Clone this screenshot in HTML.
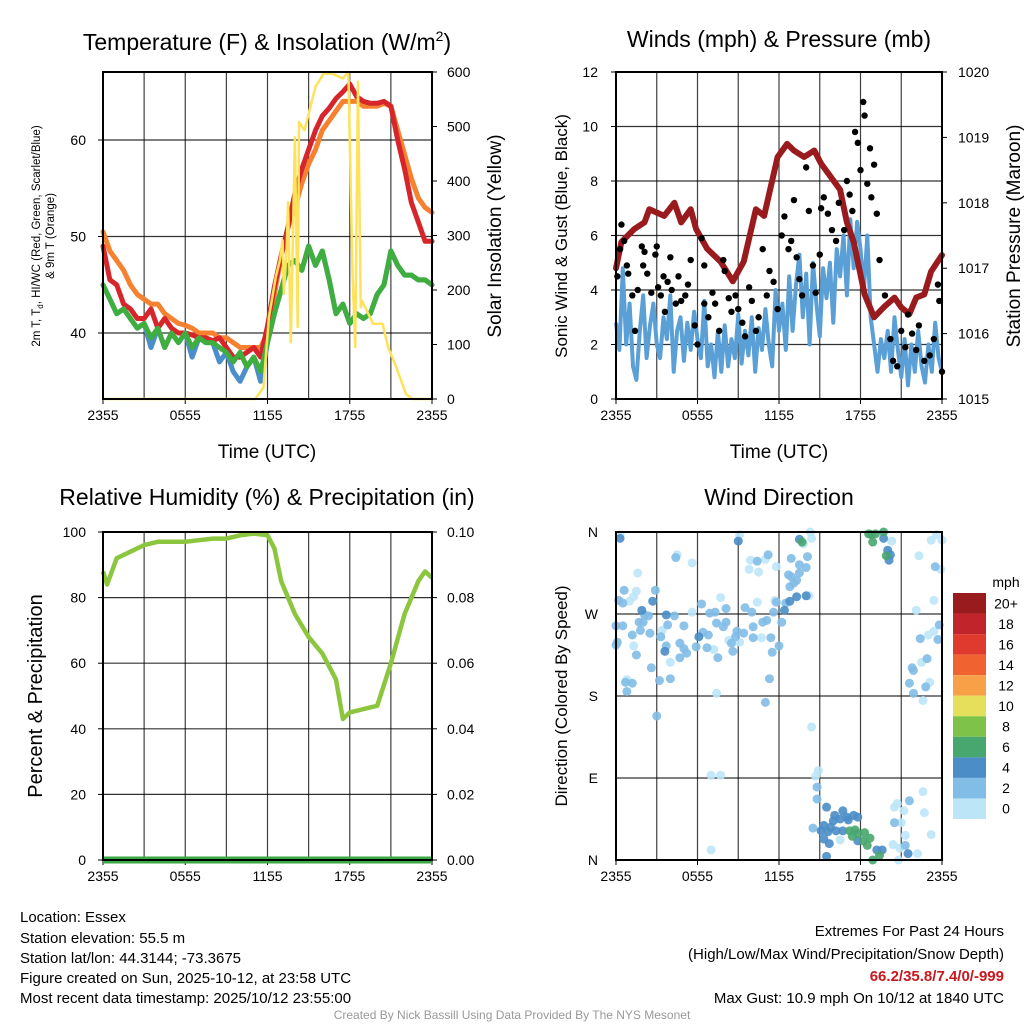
<!DOCTYPE html>
<html><head><meta charset="utf-8"><style>
html,body{margin:0;padding:0;background:#fff;width:1024px;height:1024px;overflow:hidden}
svg text{font-family:"Liberation Sans",sans-serif;fill:#000}
</style></head><body>
<svg id="s" width="1024" height="1024" viewBox="0 0 1024 1024" xmlns="http://www.w3.org/2000/svg">
<text x="267" y="50" font-size="23" text-anchor="middle">Temperature (F) &amp; Insolation (W/m<tspan font-size="14" dy="-9">2</tspan><tspan dy="9">)</tspan></text>
<text x="779" y="47" font-size="23" text-anchor="middle">Winds (mph) &amp; Pressure (mb)</text>
<text x="267" y="505" font-size="23" text-anchor="middle">Relative Humidity (%) &amp; Precipitation (in)</text>
<text x="779" y="505" font-size="23" text-anchor="middle">Wind Direction</text>
<text x="267" y="458" font-size="19" text-anchor="middle">Time (UTC)</text>
<text x="779" y="458" font-size="19" text-anchor="middle">Time (UTC)</text>
<text transform="translate(40,236) rotate(-90)" font-size="11.5" text-anchor="middle">2m T, T<tspan font-size="8" dy="3">d</tspan><tspan dy="-3">, HI/WC (Red, Green, Scarlet/Blue)</tspan></text>
<text transform="translate(54,236) rotate(-90)" font-size="11.5" text-anchor="middle">&amp; 9m T (Orange)</text>
<text transform="translate(501,236) rotate(-90)" font-size="19" text-anchor="middle">Solar Insolation (Yellow)</text>
<text transform="translate(567,236) rotate(-90)" font-size="17" text-anchor="middle">Sonic Wind &amp; Gust (Blue, Black)</text>
<text transform="translate(1020,236) rotate(-90)" font-size="19" text-anchor="middle">Station Pressure (Maroon)</text>
<text transform="translate(42,696) rotate(-90)" font-size="20" text-anchor="middle">Percent &amp; Precipitation</text>
<text transform="translate(567,696) rotate(-90)" font-size="17" text-anchor="middle">Direction (Colored By Speed)</text>
<g font-size="15">
<text x="20" y="922">Location: Essex</text>
<text x="20" y="943">Station elevation: 55.5 m</text>
<text x="20" y="963">Station lat/lon: 44.3144; -73.3675</text>
<text x="20" y="983">Figure created on Sun, 2025-10-12, at 23:58 UTC</text>
<text x="20" y="1003">Most recent data timestamp: 2025/10/12 23:55:00</text>
</g>
<g font-size="15" text-anchor="end">
<text x="1004" y="936">Extremes For Past 24 Hours</text>
<text x="1004" y="959">(High/Low/Max Wind/Precipitation/Snow Depth)</text>
<text x="1004" y="981" style="fill:#c8171d;font-weight:bold">66.2/35.8/7.4/0/-999</text>
<text x="1004" y="1003">Max Gust: 10.9 mph On 10/12 at 1840 UTC</text>
</g>
<text x="512" y="1019" font-size="12" text-anchor="middle" style="fill:#999">Created By Nick Bassill Using Data Provided By The NYS Mesonet</text>
</svg>
<script>
// ---- Temperature panel data (hours from 2355 UTC) ----
const tHours=[0,0.5,1,1.5,2,2.5,3,3.5,4,4.5,5,5.5,6,6.5,7,7.5,8,8.5,9,9.5,10,10.5,11,11.5,12,12.5,13,13.5,14,14.5,15,15.5,16,16.5,17,17.5,18,18.5,19,19.5,20,20.5,21,21.5,22,22.5,23,23.5,24];
const tempRed=[49,45.5,45,43,42.5,41.5,41.5,42.5,40.5,41.5,40.5,40,40,39.8,39.5,39.5,39.2,39.5,38.5,37.5,37.5,38,38.5,37.5,40.7,44.8,48,51,54.5,57,59,61,62.5,63.3,64.3,65,65.8,64.5,64,63.8,63.8,64,63.5,60,57,53.5,51.5,49.5,49.5];
const tempOrange=[50.5,48.5,47.5,46.5,45,44,43.5,43,43,42,41.5,41,40.8,40.5,40,40,40,39.5,39.5,39,38.5,38.5,38.5,38.5,40,44,48,51,53,55.5,57.5,59,61,62,63,64,64,64,63.5,63.5,63.5,63.8,63.5,61,58.5,56,54,53,52.5];
const tempGreen=[45,43.5,42,42.5,41.5,40.5,41,39.5,40.5,38.5,40,39,40,38.5,39.5,39,39,38.5,38,37,38,36.5,37.5,36,39,42,44.5,47,47.5,46.5,49,47,48.5,45.5,42,43,41,42,41.5,42,44,45,48.5,47,46,46,45.5,45.5,45];
const tempBlue=[45,43.5,42,42.5,41.5,40.5,41,38.5,40.5,38.5,40,39,40,37.5,39.5,39,39,37,38,36,35,36.5,37.5,35,39,42,44.5,47,47.5,46.5,49,47,48.5,45.5,42,43,41,42,41.5,42,44,45,48.5,47,46,46,45.5,45.5,45];
const solarHours=[0,11.1,11.7,12.1,12.6,12.9,13.1,13.2,13.4,13.5,13.7,14.0,14.2,14.3,14.7,15.0,15.5,16.1,16.7,17.5,17.9,18.2,18.4,18.6,18.8,18.9,19.7,19.9,20.4,20.8,21.4,22.1,22.6,24];
const solarW=[0,0,21,150,223,254,291,193,279,361,104,480,132,508,493,523,573,597,597,588,600,230,95,582,168,180,138,138,138,95,58,9,0,0];
// ---- Wind panel data ----
const windHours=Array.from({length:97},(_,i)=>i*0.25);
const sonicWind=[2.8,1.8,4.8,2.0,3.5,1.2,0.7,2.5,3.8,1.5,2.7,3.5,2.0,1.5,3.0,2.2,3.8,1.0,2.5,3.0,1.4,2.8,1.8,3.2,2.2,1.5,3.6,1.2,2.0,0.8,2.5,1.0,2.7,1.2,2.2,1.5,3.1,1.3,2.5,1.6,3.0,1.0,2.6,1.8,3.3,2.0,1.2,4.0,2.5,3.5,1.8,4.5,2.5,4.2,5.3,3.0,4.6,2.0,5.0,3.5,2.3,4.8,3.7,5.0,2.8,5.5,4.5,6.0,3.8,6.6,4.8,6.5,5.5,4.0,6.0,3.0,2.0,1.0,2.2,1.5,2.5,1.0,3.0,1.8,0.8,2.2,0.5,2.0,1.0,2.5,1.2,0.6,2.0,1.0,2.8,1.5,1.0];
const gustHours=[0.1,0.3,0.4,0.6,0.8,0.9,1.2,1.4,1.6,1.9,2.0,2.1,2.3,2.6,2.9,3.0,3.1,3.3,3.5,3.6,3.8,4.0,4.1,4.4,4.6,4.8,5.1,5.3,5.5,5.8,6.0,6.3,6.5,6.5,6.8,7.1,7.3,7.6,7.9,8.0,8.3,8.5,8.8,9.0,9.3,9.5,9.8,10.0,10.3,10.5,10.8,11.1,11.3,11.6,11.9,12.2,12.4,12.7,12.9,13.1,13.3,13.5,13.7,14.0,14.2,14.5,14.7,15.0,15.1,15.3,15.6,15.9,16.2,16.4,16.8,17.0,17.2,17.4,17.6,17.8,18.0,18.2,18.3,18.5,18.7,18.8,19.0,19.2,19.4,19.8,20.2,20.4,20.7,21.0,21.3,21.5,21.8,22.1,22.3,22.7,23.1,23.4,23.7,23.8,24.0];
const gustMph=[4.5,5.5,6.4,5.8,4.9,4.6,3.8,2.5,4.0,5.6,4.9,5.4,4.6,3.9,5.3,5.6,4.1,3.8,4.5,3.2,4.3,5.2,4.0,3.5,4.5,3.6,3.8,4.2,5.1,2.7,2.0,5.9,4.9,3.5,3.0,3.9,3.5,2.5,5.1,4.7,3.7,3.2,3.8,3.3,2.8,2.3,4.1,3.6,2.5,3.0,5.5,3.8,4.7,4.3,3.3,6.0,6.7,5.5,5.8,7.3,5.2,4.4,3.8,8.5,6.9,4.9,3.9,5.3,7.0,7.4,6.8,6.2,5.8,7.2,6.2,8.0,7.5,6.9,9.8,9.4,8.4,10.9,10.4,7.9,9.2,7.4,8.6,6.8,5.1,3.8,2.2,1.4,1.2,2.5,1.9,3.1,2.4,1.8,2.7,1.4,1.6,2.2,4.2,3.6,1.0];
const presHours=[0,0.4,1.35,2.1,2.45,3.55,4.3,4.8,5.5,5.9,6.7,7.7,8.6,9.4,10.3,10.9,11.9,12.6,13.1,13.85,14.6,15.1,15.8,16.5,17.0,17.5,18.3,19.0,19.7,20.5,21.0,21.6,22.1,22.7,23.2,24.0];
const presMb=[1017.0,1017.4,1017.6,1017.7,1017.9,1017.8,1018.0,1017.7,1017.9,1017.6,1017.3,1017.1,1016.8,1017.1,1017.9,1017.8,1018.7,1018.9,1018.8,1018.7,1018.8,1018.6,1018.4,1018.2,1017.7,1017.4,1016.6,1016.25,1016.4,1016.55,1016.4,1016.3,1016.55,1016.6,1016.95,1017.2];
// ---- RH panel data ----
const rhHours=[0,0.3,1,2,3,4,5,6,7,8,9,10,11,12,12.5,13,14,15,16,17,17.5,18,19,20,21,22,23,23.5,24];
const rhPct=[88,84,92,94,96,97,97,97,97.5,98,98,99,99.5,99,95,85,75,68,63,55,43,45,46,47,60,75,85,88,86];
const precipHours=[0,24];
const precipIn=[0,0];
// ---- Wind direction data: [hour, degrees] grouped by speed (mph) ----
const dirSpeed0to2=[[0.3,357],[4.5,335],[5.6,326],[1.6,315],[1.5,295],[1.3,289],[1.0,284],[3.4,252],[1.3,235],[7.2,231],[4.0,217],[0.8,198],[7.4,183],[5.6,272],[7.7,288],[9.1,239],[8.3,241],[10.4,283],[10.7,244],[11.7,285],[14.2,290],[9.9,329],[11.0,330],[9.8,319],[10.5,316],[11.8,322],[9.1,357],[13.8,347],[14.3,360],[14.4,353],[20.3,350],[22.3,334],[23.2,351],[23.6,357],[24.0,351],[23.9,319],[23.4,285],[22.1,274],[23.4,251],[23.0,247],[22.5,217],[22.6,175],[23.1,195],[14.4,146],[7.0,93],[7.7,93],[7.0,11],[14.9,98],[14.7,92],[16.5,22],[20.8,0],[22.2,7],[20.9,13],[20.4,17],[21.3,27],[23.2,28],[21.0,41],[20.5,58],[20.7,62],[21.2,54],[22.7,52],[22.6,75]];
const dirSpeed2to4=[[4.4,332],[0.6,296],[2.9,296],[0.2,285],[0.5,282],[2.1,269],[2.4,268],[4.3,268],[1.7,261],[2.0,261],[0,257],[0.5,257],[3.8,258],[5.0,257],[1.2,247],[1.8,252],[2.5,249],[3.3,245],[6.4,250],[6.8,247],[0.1,239],[0,236],[3.7,235],[4.7,238],[5.0,232],[5.2,227],[4.7,222],[5.9,234],[6.7,233],[1.5,225],[7.5,222],[2.6,211],[0.7,195],[1.2,194],[0.8,185],[3.2,197],[4.0,199],[3.0,158],[11.0,173],[11.3,199],[6.3,281],[6.9,271],[7.3,272],[8.1,276],[7.4,260],[7.9,256],[8.1,261],[8.9,251],[8.8,245],[8.5,238],[8.6,229],[9.4,249],[9.5,277],[10.0,272],[10.1,256],[10.1,244],[10.8,261],[11.1,263],[11.4,244],[11.5,228],[12.0,235],[11.6,272],[11.8,283],[12.2,261],[12.5,282],[12.8,300],[13.1,304],[12.9,311],[13.3,307],[12.7,313],[13.5,315],[14.0,321],[13.5,324],[12.9,331],[14.1,333],[11.2,335],[10.4,328],[23.5,322],[23.8,258],[22.4,243],[23.7,242],[22.9,221],[21.8,211],[21.9,208],[21.6,194],[21.9,183],[22.8,190],[14.8,80],[14.8,67],[14.5,35],[21.3,16],[20.5,41],[21.6,65]];
const dirSpeed4to6=[[0.3,353],[2.7,284],[1.9,274],[3.7,269],[6.1,245],[3.6,229],[12.4,274],[12.8,284],[13.3,289],[14.0,290],[9.0,350],[13.5,352],[19.7,353],[20.0,340],[20.2,335],[20.1,329],[15.5,58],[16.5,45],[16.1,49],[16.0,43],[16.7,54],[17.0,47],[17.1,44],[17.5,49],[17.8,47],[15.3,38],[15.8,36],[15.1,32],[15.6,31],[16.2,32],[16.7,32],[15.3,23],[15.7,18],[17.8,21],[19.2,11],[19.6,11],[15.5,4],[21.5,7]];
const dirSpeed6to8=[[13.7,349],[18.6,358],[18.8,357],[19.1,358],[18.9,349],[19.7,360],[19.9,334],[17.2,32],[17.6,33],[17.8,29],[18.3,30],[18.7,24],[18.2,21],[17.4,26],[18.5,16],[19.4,5],[18.9,0]];
const cbLabels=["20+","18","16","14","12","10","8","6","4","2","0"];
const cbColors=["#9a1b1e","#c1252b","#e03a2e","#f0622f","#f8a047","#e6df5c","#7ec24a","#48a66f","#4a8dc7","#82bde7","#bde5f8"];

const NS="http://www.w3.org/2000/svg";
const svg=document.getElementById('s');
function el(tag,attrs,parent){const e=document.createElementNS(NS,tag);for(const k in attrs)e.setAttribute(k,attrs[k]);(parent||svg).appendChild(e);return e;}
function lin(d0,d1,r0,r1){return v=>r0+(v-d0)/(d1-d0)*(r1-r0);}
function path(xs,ys,fx,fy){return xs.map((h,i)=>(i?'L':'M')+fx(h).toFixed(1)+','+fy(ys[i]).toFixed(1)).join('');}

function panel(name,x0,x1,y0,y1,hlines,fy){
  const g=el('g',{});
  
  
  const fx=lin(0,24,x0,x1);
  for(let h=3;h<24;h+=3){el('line',{x1:fx(h),x2:fx(h),y1:y0,y2:y1,stroke:'#000','stroke-width':1.2,opacity:0.75},g);}
  hlines.forEach(v=>{el('line',{x1:x0,x2:x1,y1:fy(v),y2:fy(v),stroke:'#000','stroke-width':1.2,opacity:0.8},g);});
  const lab=["2355","0555","1155","1755","2355"];
  for(let i=0;i<5;i++){const t=el('text',{x:fx(i*6),y:y1+21,'font-size':14,'text-anchor':'middle'});t.textContent=lab[i];
    
    
    el('line',{x1:fx(i*6),x2:fx(i*6),y1:y1,y2:y1+5,stroke:'#000'});}
  return fx;
}
function frame(name,x0,x1,y0,y1){const r=el('rect',{x:x0,y:y0,width:x1-x0,height:y1-y0,fill:'none',stroke:'#000','stroke-width':2});
  
  }
function ticks(name,vals,fy,x,anchor,fmt,tx,dir){vals.forEach(v=>{const t=el('text',{x:x,y:fy(v)+5,'font-size':14,'text-anchor':anchor});t.textContent=fmt(v);
  
  
  el('line',{x1:tx,x2:tx+dir*5,y1:fy(v),y2:fy(v),stroke:'#000'});});}

// ===== Panel 1: temperature =====
{
const x0=103,x1=432,y0=72,y1=399;
const fT=lin(40,60,333,140), fS=lin(0,600,y1,y0);
const fx=panel('temp',x0,x1,y0,y1,[40,50,60],fT);
const series=[[tempBlue,'#4a8fcb','hiwc-line'],[tempOrange,'#f58230','temp-9m-line'],[tempRed,'#d7262b','temp-2m-line'],[tempGreen,'#3fae3f','dewpoint-line']];
const sol=el('path',{d:path(solarHours,solarW,fx,fS),fill:'none',stroke:'#fde25a','stroke-width':2.5,'stroke-linejoin':'round'});


series.forEach(s=>{const p=el('path',{d:path(tHours,s[0],fx,fT),fill:'none',stroke:s[1],'stroke-width':5,'stroke-linejoin':'round','stroke-linecap':'round'});
  
  });
svg.appendChild(sol);
frame('temp',x0,x1,y0,y1);
ticks('temp-left',[40,50,60],fT,86,'end',v=>v,x0,-1);
ticks('solar-right',[0,100,200,300,400,500,600],fS,447,'start',v=>v,x1,1);
}
// ===== Panel 2: winds & pressure =====
{
const x0=616,x1=942,y0=72,y1=399;
const fW=lin(0,12,y1,y0), fP=lin(1015,1020,y1,y0);
const fx=panel('wind',x0,x1,y0,y1,[2,4,6,8,10],fW);
const sw=el('path',{d:path(windHours,sonicWind,fx,fW),fill:'none',stroke:'#5a9fd6','stroke-width':4,'stroke-linejoin':'round'});


const pr=el('path',{d:path(presHours,presMb,fx,fP),fill:'none',stroke:'#9a1b1e','stroke-width':6,'stroke-linejoin':'round','stroke-linecap':'round'});


gustHours.forEach((h,i)=>{const c=el('circle',{cx:fx(h),cy:fW(gustMph[i]),r:3.2,fill:'#000'});
  
  });
frame('wind',x0,x1,y0,y1);
ticks('wind-left',[0,2,4,6,8,10,12],fW,598,'end',v=>v,x0,-1);
ticks('pressure-right',[1015,1016,1017,1018,1019,1020],fP,958,'start',v=>v,x1,1);
}
// ===== Panel 3: RH & precip =====
{
const x0=103,x1=432,y0=532,y1=860;
const fR=lin(0,100,y1,y0), fPr=lin(0,0.1,y1,y0);
const fx=panel('rh',x0,x1,y0,y1,[20,40,60,80],fR);
const rh=el('path',{d:path(rhHours,rhPct,fx,fR),fill:'none',stroke:'#8cc63e','stroke-width':4.5,'stroke-linejoin':'round'});


const pp=el('path',{d:path(precipHours,precipIn,fx,fPr),fill:'none',stroke:'#3aa843','stroke-width':7});


frame('rh',x0,x1,y0,y1);
ticks('rh-left',[0,20,40,60,80,100],fR,86,'end',v=>v,x0,-1);
ticks('precip-right',[0,0.02,0.04,0.06,0.08,0.1],fPr,447,'start',v=>v.toFixed(2),x1,1);
}
// ===== Panel 4: wind direction =====
{
const x0=616,x1=942,y0=532,y1=860;
const fD=lin(0,360,y1,y0);
const fx=panel('wdir',x0,x1,y0,y1,[90,180,270],fD);
const groups=[[dirSpeed0to2,cbColors[10]],[dirSpeed2to4,cbColors[9]],[dirSpeed4to6,cbColors[8]],[dirSpeed6to8,cbColors[7]]];
groups.forEach(gr=>{gr[0].forEach(p=>{const c=el('circle',{cx:fx(p[0]),cy:fD(p[1]),r:4.5,fill:gr[1],opacity:0.9});
  
  });});
frame('wdir',x0,x1,y0,y1);
const dl=["N","E","S","W","N"];
[0,90,180,270,360].forEach((v,i)=>{const t=el('text',{x:598,y:fD(v)+5,'font-size':14,'text-anchor':'end'});t.textContent=dl[i];
  
  });
const cb=el('g',{});


const t0=el('text',{x:1006,y:587,'font-size':14,'text-anchor':'middle'},cb);t0.textContent='mph';
const bh=(819-593)/cbColors.length;
cbColors.forEach((c,i)=>{const r=el('rect',{x:953,y:593+i*bh,width:33,height:bh,fill:c},cb);
  
  
  const t=el('text',{x:1006,y:593+i*bh+bh/2+5,'font-size':14,'text-anchor':'middle'},cb);t.textContent=cbLabels[i];
  
  });
}
</script>
</body></html>
